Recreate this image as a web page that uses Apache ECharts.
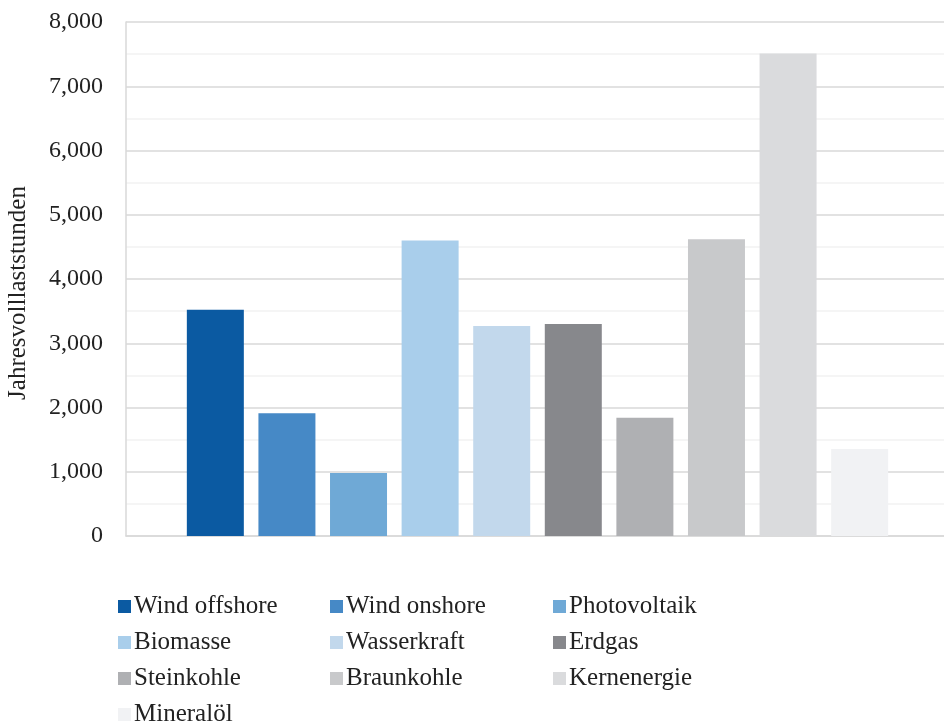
<!DOCTYPE html>
<html>
<head>
<meta charset="utf-8">
<script src="https://cdn.jsdelivr.net/npm/echarts@6/dist/echarts.min.js"></script>
<style>
html,body{margin:0;padding:0;background:#fff;}
#chart{width:944px;height:722px;}
</style>
</head>
<body>
<div id="chart"></div>
<script>
const seriesNames = ['Wind offshore','Wind onshore','Photovoltaik','Biomasse','Wasserkraft','Erdgas','Steinkohle','Braunkohle','Kernenergie','Mineralöl'];
const seriesValues = [3520, 1910, 980, 4600, 3270, 3300, 1840, 4620, 7510, 1355];
const seriesColors = ['#0B5AA2','#4689C6','#6FA9D6','#A9CEEB','#C2D8EC','#87888C','#AFB0B3','#C8C9CB','#DADBDD','#F1F2F4'];
const yTicks = {min: 0, max: 8000, interval: 1000};
const legendColumns = [
  ['Wind offshore','Biomasse','Steinkohle','Mineralöl'],
  ['Wind onshore','Wasserkraft','Braunkohle'],
  ['Photovoltaik','Erdgas','Kernenergie']
];
const legendLefts = [113, 325, 548];

const font = '"Liberation Serif", "Times New Roman", serif';
const chart = echarts.init(document.getElementById('chart'));

const series = seriesNames.map((n, i) => ({
  name: n,
  type: 'bar',
  data: [seriesValues[i]],
  barWidth: 57,
  barGap: '25.6%',
  itemStyle: {color: seriesColors[i]}
}));

const legends = legendColumns.map((col, i) => ({
  data: col,
  orient: 'vertical',
  left: legendLefts[i],
  top: 589,
  height: 200,
  itemWidth: 13,
  itemHeight: 13,
  itemGap: 11,
  icon: 'rect',
  selectedMode: false,
  textStyle: {fontFamily: font, fontSize: 25, color: '#222', padding: [0, 0, 0, -2]}
}));

chart.setOption({
  animation: false,
  backgroundColor: '#fff',
  grid: {left: 126, top: 22, width: 823, height: 514, containLabel: false, outerBoundsMode: 'none'},
  legend: legends,
  xAxis: {
    type: 'category',
    data: [''],
    axisTick: {show: false},
    axisLabel: {show: false},
    axisLine: {lineStyle: {color: '#d9d9d9', width: 1.5}}
  },
  yAxis: {
    type: 'value',
    min: yTicks.min,
    max: yTicks.max,
    interval: yTicks.interval,
    name: 'Jahresvolllaststunden',
    nameLocation: 'middle',
    nameGap: 95,
    nameTextStyle: {fontFamily: font, fontSize: 25, color: '#222', padding: [0, 28, 0, 0]},
    axisLine: {show: true, lineStyle: {color: '#d9d9d9', width: 1.5}},
    axisTick: {show: false},
    axisLabel: {
      fontFamily: font, fontSize: 24, color: '#222', margin: 23,
      formatter: v => v.toLocaleString('en-US')
    },
    splitLine: {lineStyle: {color: '#d9d9d9', width: 1.5}},
    minorTick: {show: false, splitNumber: 2},
    minorSplitLine: {show: true, lineStyle: {color: '#f2f2f2', width: 1.5}}
  },
  series: series
});
</script>
</body>
</html>
